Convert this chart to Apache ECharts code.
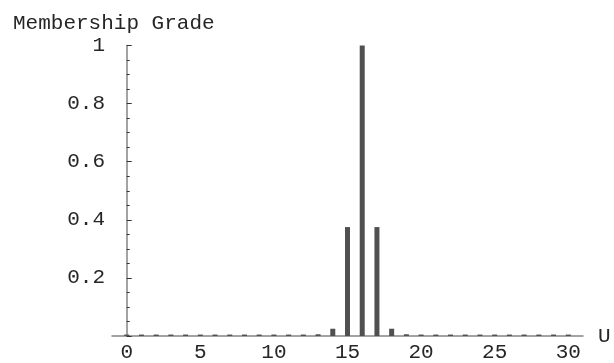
<!DOCTYPE html>
<html>
<head>
<meta charset="utf-8">
<script src="https://cdn.jsdelivr.net/npm/echarts@6/dist/echarts.min.js"></script>
<style>
  html, body { margin: 0; padding: 0; background: #fff; }
  #chart { width: 614px; height: 363px; }
</style>
</head>
<body>
<div id="chart"></div>
<script>
// Universe of discourse U = 0..30 and the membership grade of each element
const universe = [0, 1, 2, 3, 4, 5, 6, 7, 8, 9, 10, 11, 12, 13, 14, 15,
                  16, 17, 18, 19, 20, 21, 22, 23, 24, 25, 26, 27, 28, 29, 30];
const grades = [0.005, 0.005, 0.005, 0.005, 0.005, 0.005, 0.005, 0.005,
                0.005, 0.005, 0.005, 0.005, 0.005, 0.006, 0.025, 0.375,
                1, 0.375, 0.025, 0.006, 0.005, 0.005, 0.005, 0.005,
                0.005, 0.005, 0.005, 0.005, 0.005, 0.005, 0.005];
const xTicks = [0, 5, 10, 15, 20, 25, 30];
const yTicks = [0.2, 0.4, 0.6, 0.8, 1];

const FONT = '"Liberation Mono", "Courier New", monospace';
const AXIS_COLOR = '#858585';
const TEXT_COLOR = '#262626';

const chart = echarts.init(document.getElementById('chart'));

chart.setOption({
  animation: false,
  backgroundColor: '#ffffff',
  title: {
    text: 'Membership Grade',
    left: 8,
    top: 8,
    textStyle: { fontFamily: FONT, fontSize: 21, fontWeight: 'normal', color: TEXT_COLOR }
  },
  grid: { left: 112, right: 31, top: 45.5, bottom: 26.5, containLabel: false },
  xAxis: {
    type: 'value',
    min: -1,
    max: 31,
    interval: 1,
    name: 'U',
    nameLocation: 'end',
    nameGap: 15,
    nameTextStyle: { fontFamily: FONT, fontSize: 21, color: TEXT_COLOR },
    axisLine: { show: true, onZero: false, lineStyle: { color: AXIS_COLOR, width: 1.5 } },
    axisTick: { show: false },
    splitLine: { show: false },
    axisLabel: {
      show: true,
      margin: 6,
      fontFamily: FONT,
      fontSize: 21,
      color: TEXT_COLOR,
      showMinLabel: false,
      showMaxLabel: false,
      formatter: v => (xTicks.indexOf(v) >= 0 ? String(v) : '')
    }
  },
  yAxis: {
    type: 'value',
    min: 0,
    max: 1,
    interval: 0.2,
    axisLine: { show: true, lineStyle: { color: AXIS_COLOR, width: 1.5 } },
    axisTick: { show: true, inside: true, length: 5, lineStyle: { color: '#333', width: 1 } },
    minorTick: { show: true, splitNumber: 4, length: 3, lineStyle: { color: '#333', width: 1 } },
    splitLine: { show: false },
    axisLabel: {
      margin: 7,
      fontFamily: FONT,
      fontSize: 21,
      color: TEXT_COLOR,
      formatter: v => {
        const t = yTicks.find(y => Math.abs(y - v) < 1e-9);
        return t === undefined ? '' : String(t);
      }
    }
  },
  series: [{
    type: 'bar',
    barWidth: 5,
    itemStyle: { color: '#505050' },
    data: universe.map((u, i) => [u, grades[i]])
  }]
});
</script>
</body>
</html>
